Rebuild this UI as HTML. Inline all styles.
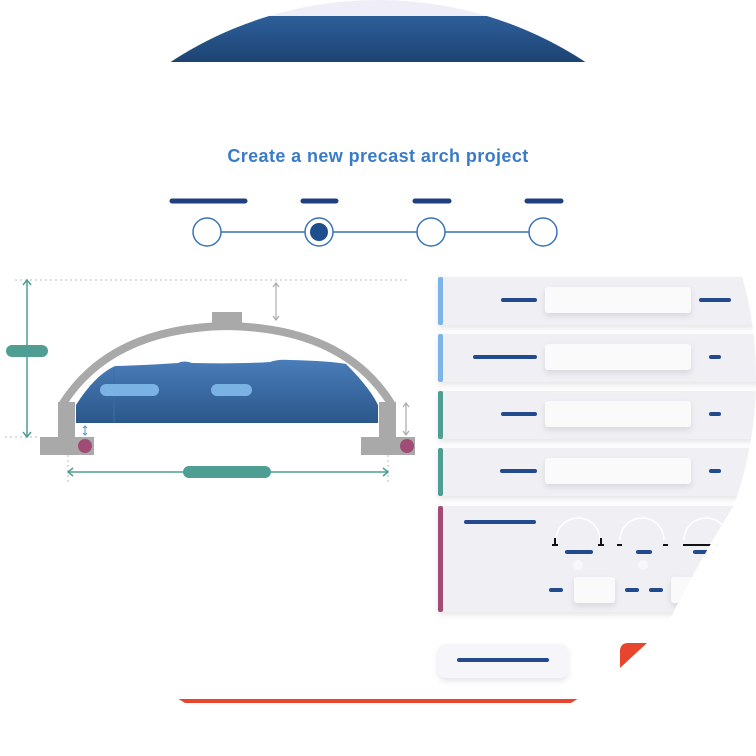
<!DOCTYPE html>
<html><head><meta charset="utf-8"><style>
html,body{margin:0;padding:0;background:#fff;width:756px;height:756px;overflow:hidden}
svg{display:block}
</style></head><body>
<svg width="756" height="756" viewBox="0 0 756 756" xmlns="http://www.w3.org/2000/svg">
<defs>
<clipPath id="c"><circle cx="378" cy="378" r="378"/></clipPath>
<linearGradient id="dome" x1="0" y1="0" x2="0" y2="1"><stop offset="0" stop-color="#2e5f9a"/><stop offset="1" stop-color="#1d4373"/></linearGradient>
<linearGradient id="water" x1="0" y1="0" x2="0" y2="1"><stop offset="0" stop-color="#4a7dba"/><stop offset="1" stop-color="#2b578a"/></linearGradient>
<filter id="sh" x="-10%" y="-20%" width="120%" height="150%"><feDropShadow dx="0" dy="3" stdDeviation="3" flood-color="#000" flood-opacity="0.10"/></filter>
</defs>
<g clip-path="url(#c)">
<rect x="0" y="0" width="756" height="16" fill="#efedf8"/>
<rect x="0" y="16" width="756" height="46" fill="url(#dome)"/>
<rect x="0" y="699" width="756" height="4" fill="#e8452e"/>

<!-- cards -->
<g filter="url(#sh)">
<rect x="438" y="277" width="330" height="48" rx="3" fill="#efeff4"/>
<rect x="438" y="334" width="330" height="48" rx="3" fill="#efeff4"/>
<rect x="438" y="391" width="330" height="48" rx="3" fill="#efeff4"/>
<rect x="438" y="448" width="330" height="48" rx="3" fill="#efeff4"/>
<rect x="438" y="506" width="330" height="106" rx="3" fill="#efeff4"/>
<rect x="438" y="644" width="130" height="34" rx="8" fill="#f6f6fa"/>
</g>
<rect x="438" y="277" width="5" height="48" rx="2" fill="#7ab4e8"/>
<rect x="438" y="334" width="5" height="48" rx="2" fill="#7ab4e8"/>
<rect x="438" y="391" width="5" height="48" rx="2" fill="#4f9e94"/>
<rect x="438" y="448" width="5" height="48" rx="2" fill="#4f9e94"/>
<rect x="438" y="506" width="5" height="106" rx="2" fill="#a04c74"/>
<g fill="#fafafb" filter="url(#sh)">
<rect x="545" y="287" width="146" height="26" rx="3"/>
<rect x="545" y="344" width="146" height="26" rx="3"/>
<rect x="545" y="401" width="146" height="26" rx="3"/>
<rect x="545" y="458" width="146" height="26" rx="3"/>
<rect x="574" y="577" width="41" height="26" rx="3"/>
<rect x="671" y="577" width="41" height="26" rx="3"/>
</g>
<g stroke="#234a8c" stroke-width="4" stroke-linecap="round">
<line x1="503" y1="300" x2="535" y2="300"/><line x1="701" y1="300" x2="729" y2="300"/>
<line x1="475" y1="357" x2="535" y2="357"/><line x1="711" y1="357" x2="719" y2="357"/>
<line x1="503" y1="414" x2="535" y2="414"/><line x1="711" y1="414" x2="719" y2="414"/>
<line x1="502" y1="471" x2="535" y2="471"/><line x1="711" y1="471" x2="719" y2="471"/>
<line x1="466" y1="522" x2="534" y2="522"/>
<line x1="567" y1="552" x2="591" y2="552"/><line x1="638" y1="552" x2="650" y2="552"/><line x1="695" y1="552" x2="712" y2="552"/>
<line x1="551" y1="590" x2="561" y2="590"/><line x1="627" y1="590" x2="637" y2="590"/><line x1="651" y1="590" x2="661" y2="590"/>
<line x1="459" y1="660" x2="547" y2="660"/>
</g>
<g fill="none" stroke="#fff" stroke-width="1.5">
<path d="M556 540 A22 22 0 0 1 600 540"/><path d="M620 540 A22 22 0 0 1 664 540"/><path d="M684 540 A22 22 0 0 1 728 540"/>
</g>
<circle cx="578" cy="565" r="5" fill="#f8f8fa"/><circle cx="643" cy="565" r="5" fill="#f8f8fa"/>
<g stroke="#111" stroke-width="2">
<line x1="552" y1="545" x2="558" y2="545"/><line x1="555" y1="538" x2="555" y2="545"/>
<line x1="598" y1="545" x2="604" y2="545"/><line x1="601" y1="538" x2="601" y2="545"/>
<line x1="617" y1="545" x2="622" y2="545"/><line x1="663" y1="545" x2="668" y2="545"/>
<line x1="683" y1="545" x2="720" y2="545"/>
</g>
<path d="M737 500 Q700 560 672 615 L760 640 L760 500 Z" fill="#fff"/>
<path d="M620 668 L620 650 Q621 643 628 643 L647 643 Z" fill="#e8452e"/>
</g>

<text x="378" y="162" text-anchor="middle" font-family="Liberation Sans, sans-serif" font-weight="bold" font-size="18" letter-spacing="0.4" fill="#3a7bc8">Create a new precast arch project</text>
<g stroke="#1f3f80" stroke-width="5" stroke-linecap="round">
<line x1="172" y1="201" x2="245" y2="201"/><line x1="303" y1="201" x2="336" y2="201"/>
<line x1="415" y1="201" x2="449" y2="201"/><line x1="527" y1="201" x2="561" y2="201"/>
</g>
<g stroke="#3a72b8" stroke-width="1.5" fill="#fff">
<line x1="221" y1="232" x2="305" y2="232"/><line x1="333" y1="232" x2="417" y2="232"/><line x1="445" y1="232" x2="529" y2="232"/>
<circle cx="207" cy="232" r="14"/><circle cx="319" cy="232" r="14"/><circle cx="431" cy="232" r="14"/><circle cx="543" cy="232" r="14"/>
</g>
<circle cx="319" cy="232" r="9" fill="#1f4e8c"/>

<!-- diagram -->
<g stroke="#bbb" stroke-width="1" stroke-dasharray="2 3">
<line x1="15" y1="280" x2="410" y2="280"/><line x1="5" y1="437" x2="40" y2="437"/>
<line x1="68" y1="455" x2="68" y2="482"/><line x1="388" y1="455" x2="388" y2="482"/>
</g>
<path d="M76 423 L76 405 Q95 375 115 366 Q150 365 178 363 Q184 360 192 363 Q240 364 270 362 Q278 359 290 360 Q330 361 346 364 Q370 388 378 405 L378 423 Z" fill="url(#water)"/>
<line x1="114" y1="368" x2="114" y2="423" stroke="#3a6ea8" stroke-width="1"/>
<rect x="100" y="384" width="59" height="12" rx="6" fill="#7ab2e4"/>
<rect x="211" y="384" width="41" height="12" rx="6" fill="#7ab2e4"/>
<path d="M62 405 Q110 328 227 326 Q345 328 392 405" fill="none" stroke="#a9a9a9" stroke-width="8"/>
<rect x="212" y="312" width="30" height="14" fill="#a9a9a9"/>
<rect x="58" y="402" width="17" height="36" fill="#a9a9a9"/>
<rect x="40" y="437" width="54" height="18" fill="#a9a9a9"/>
<rect x="379" y="402" width="17" height="36" fill="#a9a9a9"/>
<rect x="361" y="437" width="54" height="18" fill="#a9a9a9"/>
<circle cx="85" cy="446" r="7" fill="#a04c74"/><circle cx="407" cy="446" r="7" fill="#a04c74"/>
<g stroke="#4f9e94" stroke-width="1.5" fill="none">
<line x1="27" y1="281" x2="27" y2="436"/>
<path d="M23 285 L27 280 L31 285 M23 432 L27 437 L31 432"/>
<line x1="68" y1="472" x2="388" y2="472"/>
<path d="M73 468 L68 472 L73 476 M383 468 L388 472 L383 476"/>
</g>
<rect x="6" y="345" width="42" height="12" rx="6" fill="#4f9e94"/>
<rect x="183" y="466" width="88" height="12" rx="6" fill="#4f9e94"/>
<g stroke="#aaa" stroke-width="1.2" fill="none">
<line x1="276" y1="283" x2="276" y2="320"/><path d="M273 287 L276 283 L279 287 M273 316 L276 320 L279 316"/>
<line x1="406" y1="403" x2="406" y2="435"/><path d="M403 407 L406 403 L409 407 M403 431 L406 435 L409 431"/>
</g>
<g stroke="#5a8ed0" stroke-width="1" fill="none">
<line x1="85" y1="426" x2="85" y2="435"/><path d="M83 428 L85 426 L87 428 M83 433 L85 435 L87 433"/>
</g>
</svg>
</body></html>
